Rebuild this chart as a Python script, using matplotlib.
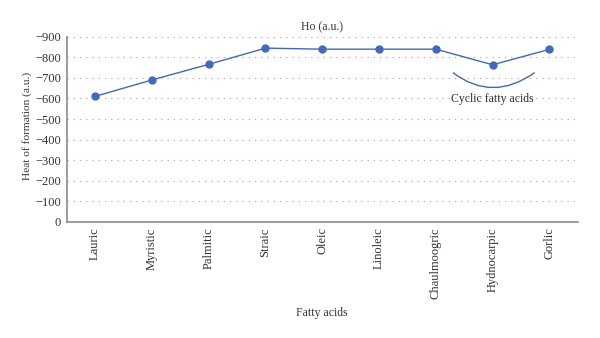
import matplotlib
matplotlib.use("Agg")
import matplotlib.pyplot as plt
from matplotlib.path import Path
from matplotlib.patches import PathPatch

categories = ["Lauric", "Myristic", "Palmitic", "Straic", "Oleic",
              "Linoleic", "Chaulmoogric", "Hydnocarpic", "Gorlic"]
heat_of_formation = [-610, -690, -766, -845, -840, -840, -840, -764, -839]
y_ticks = [0, -100, -200, -300, -400, -500, -600, -700, -800, -900]

plt.rcParams["font.family"] = ["Liberation Serif", "DejaVu Serif"]
blue = "#4169c0"
grey = "#8c8c8c"

fig = plt.figure(figsize=(6.0, 3.38), dpi=100)
ax = fig.add_axes([0.111, 0.344, 0.852, 0.547])

x = list(range(len(categories)))
ax.plot(x, heat_of_formation, color=blue, lw=1.0, marker="o",
        markersize=5, markerfacecolor=blue, markeredgecolor=blue, zorder=3)

ax.set_xlim(-0.5, len(categories) - 0.5)
ax.set_ylim(0, -900)
ax.set_yticks(y_ticks)
ax.set_yticklabels([f"{v:d}".replace("-", "\u2212") for v in y_ticks])
ax.set_xticks(x)
ax.set_xticklabels(categories, rotation=90)

ax.grid(axis="y", color="#b0b0b0", linestyle=(0, (1, 4)), linewidth=0.9)
ax.set_axisbelow(True)
for side in ("top", "right"):
    ax.spines[side].set_visible(False)
for side in ("left", "bottom"):
    ax.spines[side].set_color(grey)
    ax.spines[side].set_linewidth(1.2)
ax.tick_params(axis="both", length=0, labelsize=9, colors="#333333", pad=4)

ax.set_title("Ho (a.u.)", fontsize=8.5, color="#333333", pad=5)
ax.set_ylabel("Heat of formation (a.u.)", fontsize=8.2, color="#333333")
ax.yaxis.set_label_coords(-0.068, 0.52)
ax.set_xlabel("Fatty acids", fontsize=8.5, color="#333333", labelpad=6)

# Bracket grouping the cyclic acids
bracket = Path([(6.30, -726), (7.0, -580), (7.74, -726)],
               [Path.MOVETO, Path.CURVE3, Path.CURVE3])
ax.add_patch(PathPatch(bracket, facecolor="none", edgecolor=blue, lw=1.0))
ax.text(7.0, -598, "Cyclic fatty acids", ha="center", va="center",
        fontsize=8.5, color="#333333")

fig.savefig("out.png", dpi=100)
